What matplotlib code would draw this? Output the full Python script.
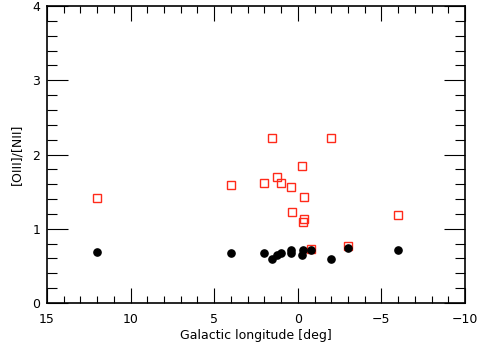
import numpy as np
import matplotlib
matplotlib.use("Agg")
import matplotlib.pyplot as plt
from matplotlib.ticker import MultipleLocator

# [OIII]/[NII] ratios vs galactic longitude
sq_l = [12.0, 4.0, 2.02, 1.52, -1.99, -0.23, 1.24, 1.02, 0.42, -0.37,
        0.36, -0.35, -0.29, -0.81, -2.98, -5.99]
sq_r = [1.41, 1.585, 1.61, 2.22, 2.22, 1.845, 1.70, 1.61, 1.56, 1.43,
        1.22, 1.135, 1.09, 0.727, 0.77, 1.19]

dot_l = [12.0, 4.0, 2.0, 1.52, 1.23, 1.02, 0.43, 0.43, -0.29, -0.23,
         -0.81, -1.99, -2.98, -5.99]
dot_r = [0.69, 0.67, 0.68, 0.59, 0.65, 0.67, 0.72, 0.68, 0.72, 0.65,
         0.72, 0.59, 0.74, 0.71]

fig = plt.figure(figsize=(4.84, 3.49), dpi=100)
ax = fig.add_axes([0.0971, 0.1318, 0.8636, 0.851])

ax.plot(sq_l, sq_r, ls="none", marker="s", ms=5.2, mfc="none",
        mec="#ff2a1a", mew=1.0)
ax.plot(dot_l, dot_r, ls="none", marker="o", ms=5.2, mfc="black",
        mec="black")

ax.set_xlim(15, -10)
ax.set_ylim(0, 4)
ax.xaxis.set_major_locator(MultipleLocator(5))
ax.xaxis.set_minor_locator(MultipleLocator(1))
ax.yaxis.set_major_locator(MultipleLocator(1))
ax.yaxis.set_minor_locator(MultipleLocator(0.2))

ax.tick_params(axis="both", which="both", direction="in", top=True,
               right=True, labelsize=9, width=0.8)
ax.tick_params(axis="x", which="major", length=10.5, pad=7)
ax.tick_params(axis="x", which="minor", length=5)
ax.tick_params(axis="y", which="major", length=15, pad=5)
ax.tick_params(axis="y", which="minor", length=7.5)
for s in ax.spines.values():
    s.set_linewidth(1.2)

ax.set_xlabel("Galactic longitude [deg]", fontsize=9, labelpad=2)
ax.set_ylabel("[OIII]/[NII]", fontsize=9, labelpad=6)

fig.savefig("out.png", dpi=100)
